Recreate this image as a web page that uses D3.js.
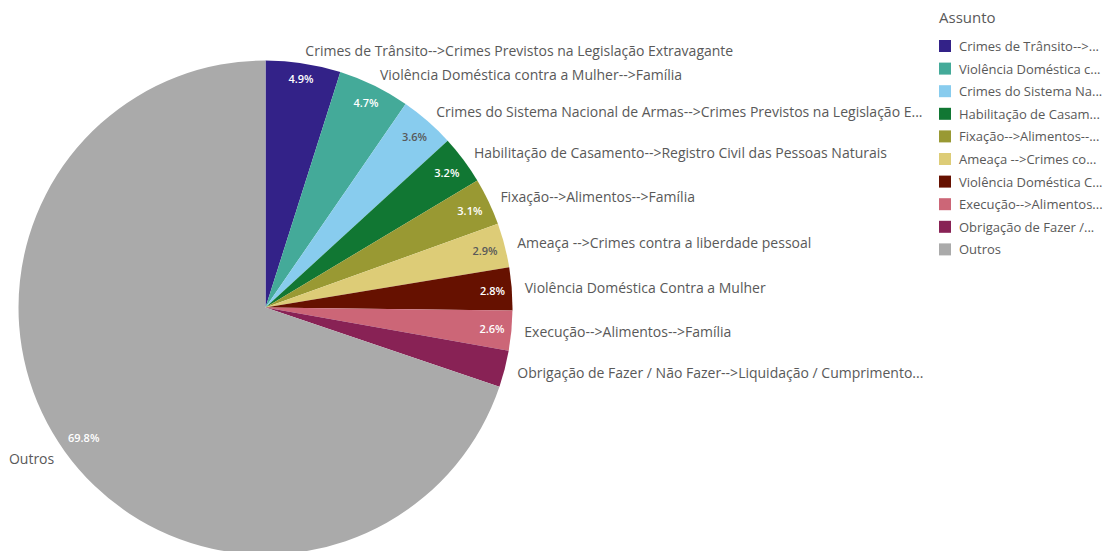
<!DOCTYPE html>
<html>
<head>
<meta charset="utf-8">
<script src="https://cdn.jsdelivr.net/npm/d3@7"></script>
<style>
  body { margin: 0; background: #fff; }
  svg { font-family: "Open Sans", "Noto Sans", sans-serif; }
</style>
</head>
<body>
<div class="main"></div>
<script>
//// data
const subjects = [
  'Crimes de Trânsito-->Crimes Previstos na Legislação Extravagante',
  'Violência Doméstica contra a Mulher-->Família',
  'Crimes do Sistema Nacional de Armas-->Crimes Previstos na Legislação Extravagante',
  'Habilitação de Casamento-->Registro Civil das Pessoas Naturais',
  'Fixação-->Alimentos-->Família',
  'Ameaça -->Crimes contra a liberdade pessoal',
  'Violência Doméstica Contra a Mulher',
  'Execução-->Alimentos-->Família',
  'Obrigação de Fazer / Não Fazer-->Liquidação / Cumprimento / Execução',
  'Outros'
];
const shares = [4.9, 4.7, 3.6, 3.2, 3.1, 2.9, 2.8, 2.6, 2.4, 69.8];
const sliceColors = ['#332288', '#44aa99', '#88ccee', '#117733', '#999933',
  '#ddcc77', '#661100', '#cc6677', '#882255', '#aaaaaa'];
const darkText = ['#88ccee', '#ddcc77'];

////Globals
const width = 1116;
const height = 551;
const cx = 265.5, cy = 307.5, radius = 247;
const minLabelShare = 2.5; // smaller slices get no percent label
const svg = d3.select('.main').append('svg')
  .attr('width', width)
  .attr('height', height);

const data = subjects.map((s, i) => ({ name: s, value: shares[i], color: sliceColors[i] }));

const pie = d3.pie().sort(null).value(d => d.value);
const arcs = pie(data);
const arc = d3.arc().innerRadius(0).outerRadius(radius);

// shorten a text element with an ellipsis until it fits
function fitText(node, maxW) {
  const full = node.textContent;
  if (node.getComputedTextLength() <= maxW) return;
  let n = full.length;
  while (n > 0) {
    n--;
    node.textContent = full.slice(0, n).trimEnd() + '...';
    if (node.getComputedTextLength() <= maxW) break;
  }
}

const g = svg.append('g').attr('transform', `translate(${cx},${cy})`);

g.selectAll('path')
  .data(arcs)
  .enter()
  .append('path')
  .attr('d', arc)
  .attr('fill', d => d.data.color);

// percent labels inside the slices
const pct = g.selectAll('text.pct')
  .data(arcs.filter(d => d.data.value >= minLabelShare))
  .enter()
  .append('text')
  .attr('class', 'pct')
  .attr('text-anchor', 'middle')
  .attr('dominant-baseline', 'central')
  .attr('font-size', 11)
  .attr('font-weight', 600)
  .attr('fill', d => darkText.includes(d.data.color) ? '#595959' : '#ffffff')
  .text(d => d.data.value.toFixed(1) + '%');

pct.each(function(d) {
  const a = (d.startAngle + d.endAngle) / 2;
  const bb = this.getBBox();
  const proj = Math.abs(Math.sin(a)) * bb.width / 2 + Math.abs(Math.cos(a)) * bb.height / 2;
  const r = radius - 6 - proj;
  d3.select(this)
    .attr('x', r * Math.sin(a))
    .attr('y', -r * Math.cos(a));
});

// outside labels
const labelR = 260;
g.selectAll('text.lbl')
  .data(arcs)
  .enter()
  .append('text')
  .attr('class', 'lbl')
  .attr('font-size', 14)
  .attr('fill', '#595959')
  .attr('dominant-baseline', 'central')
  .each(function(d) {
    const a = (d.startAngle + d.endAngle) / 2;
    const x = labelR * Math.sin(a);
    const y = -labelR * Math.cos(a);
    const right = a < Math.PI;
    d3.select(this)
      .attr('x', x)
      .attr('y', y)
      .attr('text-anchor', right ? 'start' : 'end')
      .text(d.data.name);
    if (right) fitText(this, 928 - (cx + x));
  });

// legend
const legend = svg.append('g').attr('transform', 'translate(938,0)');
legend.append('text')
  .attr('x', 1)
  .attr('y', 17)
  .attr('dominant-baseline', 'central')
  .attr('font-size', 15)
  .attr('fill', '#595959')
  .text('Assunto');

const items = legend.selectAll('g.item')
  .data(data)
  .enter()
  .append('g')
  .attr('class', 'item')
  .attr('transform', (_, i) => `translate(0,${46 + i * 22.6})`);

items.append('rect')
  .attr('x', 1)
  .attr('y', -6)
  .attr('width', 12)
  .attr('height', 12)
  .attr('fill', d => d.color);

items.append('text')
  .attr('x', 21)
  .attr('y', 0)
  .attr('dominant-baseline', 'central')
  .attr('font-size', 13)
  .attr('fill', '#595959')
  .text(d => d.name)
  .each(function() { fitText(this, 145); });
</script>
</body>
</html>
